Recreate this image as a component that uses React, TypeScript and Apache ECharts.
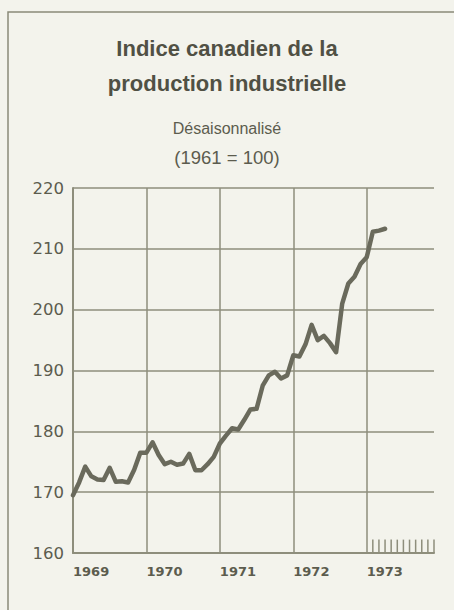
import React, { useEffect, useRef } from "react";
import * as echarts from "echarts";

// Monthly index, Jan 1969 = month 0
const months: number[] = Array.from({ length: 52 }, (_, i) => i);
const indexValues: number[] = [
  169.5, 171.6, 174.2, 172.6, 172.1, 172.0, 174.0, 171.7, 171.8, 171.6, 173.7, 176.5,
  176.5, 178.2, 176.1, 174.6, 175.0, 174.5, 174.7, 176.3, 173.6, 173.6, 174.6, 175.8,
  178.0, 179.3, 180.5, 180.3, 181.9, 183.6, 183.7, 187.5, 189.2, 189.8, 188.7, 189.2,
  192.5, 192.3, 194.3, 197.5, 195.0, 195.7, 194.5, 193.0, 201.0, 204.3, 205.4, 207.5,
  208.6, 212.8, 213.0, 213.3,
];
const yearLabels: string[] = ["1969", "1970", "1971", "1972", "1973"];
const yTicks: number[] = [160, 170, 180, 190, 200, 210, 220];
const hatchMonths: number[] = [49, 50, 51, 52, 53, 54, 55, 56, 57, 58, 59];
const hatchTop = 162.2;

const FONT = "'Liberation Sans', Arial, sans-serif";
const WIDE = "'DejaVu Sans', sans-serif";
const INK = "#5c5c4e";
const GRID = "#8e8e7c";
const BG = "#f3f3ec";

export default function App() {
  const ref = useRef<HTMLDivElement>(null);
  useEffect(() => {
    if (!ref.current) return;
    const chart = echarts.init(ref.current, undefined, { renderer: "svg" });
    chart.setOption({
      animation: false,
      backgroundColor: BG,
      title: [
        {
          text: "Indice canadien de la\nproduction industrielle",
          left: "center",
          top: 26,
          textStyle: { fontFamily: FONT, fontSize: 22, fontWeight: "bold", color: "#505044", lineHeight: 35 },
        },
        {
          text: "Désaisonnalisé",
          left: "center",
          top: 113,
          textStyle: { fontFamily: FONT, fontSize: 16, fontWeight: "normal", color: INK, lineHeight: 20 },
        },
        {
          text: "(1961 = 100)",
          left: "center",
          top: 141,
          textStyle: { fontFamily: FONT, fontSize: 18.5, fontWeight: "normal", color: INK, lineHeight: 22 },
        },
      ],
      graphic: [
        {
          type: "rect",
          shape: { x: 8, y: 12, width: 520, height: 700 },
          style: { fill: "none", stroke: "#8a8a78", lineWidth: 1.5 },
          silent: true,
        },
      ],
      grid: { left: 73, right: 20, top: 188, bottom: 57 },
      xAxis: {
        type: "value",
        min: 0,
        max: 59,
        interval: 12,
        axisLine: { show: true, lineStyle: { color: GRID, width: 2 } },
        axisTick: { show: false },
        splitLine: { show: true, showMaxLine: false, lineStyle: { color: GRID, width: 1.5 } },
        axisLabel: {
          align: "left",
          margin: 12,
          showMaxLabel: false,
          fontFamily: WIDE,
          fontSize: 13,
          fontWeight: "bold",
          color: INK,
          formatter: (v: number) => (v % 12 === 0 ? yearLabels[v / 12] ?? "" : ""),
        },
      },
      yAxis: {
        type: "value",
        min: yTicks[0],
        max: yTicks[yTicks.length - 1],
        interval: 10,
        axisLine: { show: true, lineStyle: { color: GRID, width: 2 } },
        axisTick: { show: false },
        splitLine: { show: true, lineStyle: { color: GRID, width: 1.5 } },
        axisLabel: {
          margin: 9,
          fontFamily: WIDE,
          fontSize: 16.5,
          color: INK,
        },
      },
      series: [
        {
          type: "line",
          data: months.map((m, i) => [m, indexValues[i]]),
          showSymbol: false,
          lineStyle: { color: "#6a6a5c", width: 4.5, join: "round", cap: "round" },
          z: 5,
        },
        {
          type: "custom",
          data: hatchMonths.map((m) => [m, hatchTop]),
          renderItem: (params: any, api: any) => {
            const top = api.coord([api.value(0), api.value(1)]);
            const base = api.coord([api.value(0), yTicks[0]]);
            return {
              type: "line",
              shape: { x1: top[0], y1: top[1], x2: base[0], y2: base[1] },
              style: { stroke: GRID, lineWidth: 1.5 },
            };
          },
          z: 4,
        },
      ],
    });
    return () => chart.dispose();
  }, []);
  return (
    <div
      ref={ref}
      style={{ position: "fixed", left: 0, top: 0, width: 454, height: 610 }}
    />
  );
}
